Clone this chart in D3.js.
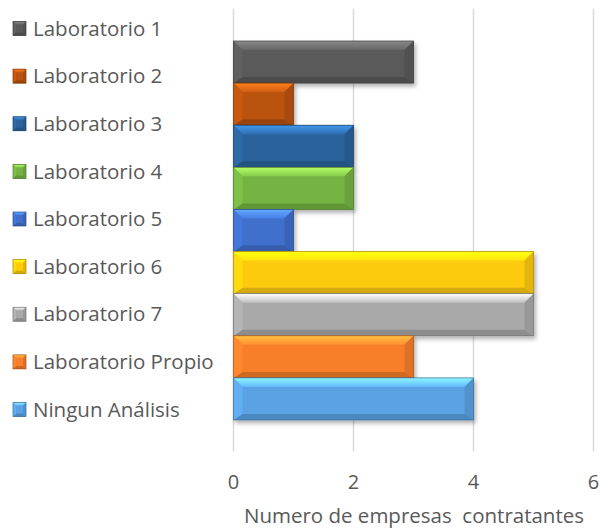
<!DOCTYPE html>
<html>
<head>
<meta charset="utf-8">
<script src="https://cdn.jsdelivr.net/npm/d3@7"></script>
<style>
  body { margin: 0; background: #fff; }
  text { font-family: "Open Sans", Lato, sans-serif; fill: #595959; }
</style>
</head>
<body>
<svg id="chart"></svg>
<script>
// datos del grafico
var labels = ["Laboratorio 1", "Laboratorio 2", "Laboratorio 3", "Laboratorio 4", "Laboratorio 5",
              "Laboratorio 6", "Laboratorio 7", "Laboratorio Propio", "Ningun Análisis"];
var values = [3, 1, 2, 2, 1, 5, 5, 3, 4];
var colors = ["#5a5a5a", "#b9530f", "#2a639c", "#75b443", "#3f6fcb",
              "#fdcb0a", "#a9a9a9", "#f87e2b", "#5aa2e4"];
var ticks = [0, 2, 4, 6];
var axisTitle = "Numero de empresas  contratantes";

var width = 600, height = 529;

var svg = d3.select("#chart").attr("width", width).attr("height", height);
var defs = svg.append("defs");

// sombra suave bajo las barras
var f = defs.append("filter").attr("id", "shadow")
  .attr("x", "-10%").attr("y", "-10%").attr("width", "130%").attr("height", "140%");
f.append("feDropShadow").attr("dx", 2).attr("dy", 3).attr("stdDeviation", 2)
  .attr("flood-color", "#000").attr("flood-opacity", 0.3);

// degradados para el bisel superior
colors.forEach(function (c, i) {
  var g = defs.append("linearGradient").attr("id", "top" + i)
    .attr("x1", 0).attr("y1", 0).attr("x2", 0).attr("y2", 1);
  g.append("stop").attr("offset", "0%").attr("stop-color", d3.color(c).brighter(1.2));
  g.append("stop").attr("offset", "100%").attr("stop-color", d3.color(c).brighter(0.35));
});

var x = d3.scaleLinear().domain([0, 6]).range([233.5, 593.5]);
var y = d3.scaleBand().domain(labels).range([41, 420]).padding(0);
var ly = d3.scalePoint().domain(labels).range([28.5, 409.5]);

// lineas de cuadricula
svg.append("g").selectAll("line").data(ticks).enter().append("line")
  .attr("x1", d => x(d)).attr("x2", d => x(d))
  .attr("y1", 9).attr("y2", 451)
  .attr("stroke", "#d9d9d9").attr("stroke-width", 1.5);

// barra con efecto de bisel
function bevelBox(sel, w, h, c, i, b, bb) {
  var col = d3.color(c);
  sel.append("rect").attr("width", w).attr("height", h).attr("fill", c);
  sel.append("polygon").attr("points", [[0, 0], [w, 0], [w - b, b], [b, b]].join(" "))
    .attr("fill", "url(#top" + i + ")");
  sel.append("polygon").attr("points", [[0, h], [w, h], [w - b, h - bb], [b, h - bb]].join(" "))
    .attr("fill", col.darker(0.5));
  sel.append("polygon").attr("points", [[0, 0], [b, b], [b, h - bb], [0, h]].join(" "))
    .attr("fill", col.brighter(0.2));
  sel.append("polygon").attr("points", [[w, 0], [w - b, b], [w - b, h - bb], [w, h]].join(" "))
    .attr("fill", col.darker(0.3));
  sel.append("rect").attr("width", w).attr("height", h).attr("fill", "none")
    .attr("stroke", col.darker(1.1)).attr("stroke-width", 0.7);
}

var bars = svg.append("g").selectAll("g.bar").data(labels).enter().append("g")
  .attr("class", "bar")
  .attr("filter", "url(#shadow)")
  .attr("transform", d => "translate(" + x(0) + "," + y(d) + ")");

bars.each(function (d, i) {
  bevelBox(d3.select(this), x(values[i]) - x(0), y.bandwidth(), colors[i], i, 9, 6);
});

// etiquetas del eje x
svg.append("g").selectAll("text").data(ticks).enter().append("text")
  .attr("x", d => x(d)).attr("y", 489)
  .attr("text-anchor", "middle").style("font-size", "20px")
  .text(d => d);

svg.append("text").attr("x", 414).attr("y", 523)
  .attr("text-anchor", "middle").style("font-size", "20.5px")
  .style("white-space", "pre")
  .text(axisTitle);

// leyenda
var leg = svg.append("g").selectAll("g").data(labels).enter().append("g")
  .attr("transform", d => "translate(13," + (ly(d) - 7) + ")");
leg.each(function (d, i) {
  bevelBox(d3.select(this), 13, 14, colors[i], i, 3, 3);
});
leg.append("text").attr("x", 20).attr("y", 7).attr("dy", "0.35em")
  .style("font-size", "20.5px")
  .text(d => d);
</script>
</body>
</html>
